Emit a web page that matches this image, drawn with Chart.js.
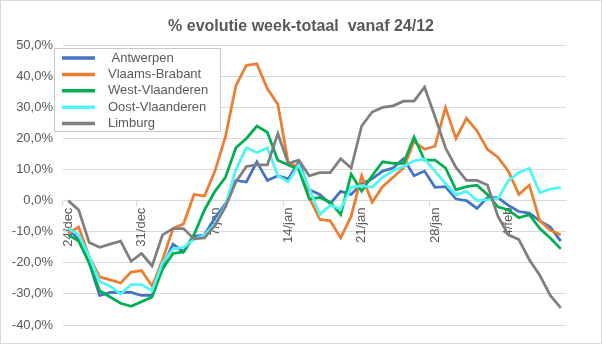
<!DOCTYPE html>
<html>
<head>
<meta charset="utf-8">
<title>% evolutie week-totaal vanaf 24/12</title>
<script src="https://cdn.jsdelivr.net/npm/chart.js@4.4.1/dist/chart.umd.min.js"></script>
<style>
  html, body { margin: 0; padding: 0; background: #fff; }
  canvas { display: block; }
</style>
</head>
<body>
<canvas id="evolutieChart" width="602" height="344"></canvas>
<script>
// one point per day, from 24/dec up to 9/feb
const days = [
    '24/dec', '25/dec', '26/dec', '27/dec', '28/dec', '29/dec', '30/dec', '31/dec',
    '1/jan', '2/jan', '3/jan', '4/jan', '5/jan', '6/jan', '7/jan', '8/jan', '9/jan', '10/jan',
    '11/jan', '12/jan', '13/jan', '14/jan', '15/jan', '16/jan', '17/jan', '18/jan', '19/jan',
    '20/jan', '21/jan', '22/jan', '23/jan', '24/jan', '25/jan', '26/jan', '27/jan', '28/jan',
    '29/jan', '30/jan', '31/jan', '1/feb', '2/feb', '3/feb', '4/feb', '5/feb', '6/feb',
    '7/feb', '8/feb', '9/feb'
];

// % evolution of the week total, per province
const antwerpen = [
    -9, -12.5, -20, -30.5, -29.5, -29.5, -29.5, -30.5, -30.5, -21, -14, -16.5,
    -11.5, -11, -5.5, -1, 6.5, 6, 12.5, 6.5, 8, 7, 12.5, 3.5,
    2, -1, 3, 2, 5.5, 7, 9.5, 10.5, 13.5, 8, 9.5, 4.3,
    4.5, 0.5, 0, -2.5, 1, 1, -1.5, -3.5, -4, -6.5, -8.5, -13
];
const vlaamsBrabant = [
    -10.5, -8.5, -18, -24.5, -25.5, -26.5, -23, -22.5, -27.5, -19, -9, -7.5,
    2, 1.5, 9.5, 20.5, 37, 43.5, 44, 36, 31, 12, 11, 1,
    -6, -6.5, -12, -5, 8, -0.5, 4.5, 7.5, 10.5, 19, 16.5, 17.5,
    30, 20, 26.5, 22.5, 16.5, 14, 9.5, 2, 5, -6.5, -9.5, -11
];
const westVlaanderen = [
    -11, -13, -20, -29, -31, -33, -34, -32.5, -31, -22, -17, -16.5,
    -11, -3, 3, 7.5, 17, 20, 24, 22, 13, 11.5, 10, 0.5,
    1, -0.5, -4.5, 8.5, 3, 8, 12.5, 12, 12, 20.5, 13, 13,
    10.5, 3.5, 4.5, 5, 2, -2, -3, -5.5, -4.5, -9, -12, -15.5
];
const oostVlaanderen = [
    -9, -11, -18, -26, -27.5, -30, -27, -27, -29, -20, -15.5, -15,
    -12.5, -11, -7.5, -1.5, 10, 17, 15.5, 17, 8, 6, 11.5, 4,
    -4.5, -1.5, -2.7, 4.3, 4.8, 4.3, 7.5, 9.6, 11, 12.8, 13.4, 9.5,
    5.5, 1.8, 3, 0, 0.3, 0.7, 6.4, 9, 10.4, 2.6, 3.7, 4.3
];
const limburg = [
    0, -3, -13.5, -15, -14, -13, -19.5, -17, -21, -11, -9, -9,
    -12.3, -12, -8, -2, 6, 11, 11.5, 11.5, 21.5, 12, 13, 8,
    9, 9, 13.5, 10.5, 24, 28.5, 30, 30.5, 32, 32, 36.5, 27,
    17, 10.7, 6.5, 6.5, 5, -5, -11, -12.5, -19, -24, -30.5, -34.5
];

const seriesNames = [' Antwerpen', 'Vlaams-Brabant', 'West-Vlaanderen', 'Oost-Vlaanderen', 'Limburg'];
const seriesColors = ['#4472c4', '#ed7d31', '#00b050', '#4ff5f5', '#7f7f7f'];
const seriesValues = [antwerpen, vlaamsBrabant, westVlaanderen, oostVlaanderen, limburg];

const textColor = '#595959';
const gridColor = '#d9d9d9';
const fontFamily = "'Liberation Sans', Arial, sans-serif";

Chart.defaults.font.family = fontFamily;
Chart.defaults.font.size = 13;
Chart.defaults.color = textColor;

// White background, thin chart border and the boxed legend inside the plot
const excelFrame = {
    id: 'excelFrame',
    beforeDraw(chart) {
        const ctx = chart.ctx;
        ctx.save();
        ctx.fillStyle = '#ffffff';
        ctx.fillRect(0, 0, chart.width, chart.height);
        ctx.strokeStyle = gridColor;
        ctx.lineWidth = 1;
        ctx.strokeRect(0.5, 0.5, chart.width - 1, chart.height - 1);
        ctx.restore();
    },
    afterDraw(chart) {
        const ctx = chart.ctx;
        const box = { x: 54.5, y: 48.5, w: 166, h: 83 };
        ctx.save();
        ctx.fillStyle = '#ffffff';
        ctx.fillRect(box.x, box.y, box.w, box.h);
        ctx.strokeStyle = '#c8c8c8';
        ctx.lineWidth = 1;
        ctx.strokeRect(box.x, box.y, box.w, box.h);

        ctx.font = '13px ' + fontFamily;
        ctx.textBaseline = 'middle';
        ctx.textAlign = 'left';
        chart.data.datasets.forEach((ds, i) => {
            const rowY = box.y + 9.5 + i * 16.4;
            ctx.strokeStyle = ds.borderColor;
            ctx.lineWidth = 3.5;
            ctx.beginPath();
            ctx.moveTo(62, rowY);
            ctx.lineTo(95, rowY);
            ctx.stroke();
            ctx.fillStyle = textColor;
            ctx.fillText(ds.label, 108, rowY);
        });
        ctx.restore();
    }
};

const ctx = document.getElementById('evolutieChart').getContext('2d');
const chart = new Chart(ctx, {
    type: 'line',
    data: {
        labels: days,
        datasets: seriesNames.map((name, i) => ({
            label: name,
            data: seriesValues[i],
            borderColor: seriesColors[i],
            backgroundColor: seriesColors[i],
            borderWidth: 2.75,
            pointRadius: 0,
            tension: 0,
            fill: false,
            // later series drawn on top, like the original
            order: seriesNames.length - i
        }))
    },
    options: {
        responsive: false,
        animation: false,
        layout: {
            padding: { left: 12, right: 12, top: 0, bottom: 19 }
        },
        plugins: {
            legend: { display: false },
            tooltip: { enabled: false },
            title: {
                display: true,
                text: '% evolutie week-totaal  vanaf 24/12',
                color: textColor,
                font: { size: 16, weight: 'bold' },
                padding: { top: 17, bottom: 9 }
            }
        },
        scales: {
            x: {
                type: 'category',
                position: { y: 0 },
                offset: true,
                grid: {
                    offset: true,
                    drawOnChartArea: false,
                    drawTicks: true,
                    tickLength: 5,
                    color: (c) => (c.index % 7 === 0 ? gridColor : 'rgba(0,0,0,0)')
                },
                border: { display: true, color: gridColor },
                ticks: {
                    autoSkip: false,
                    minRotation: 90,
                    maxRotation: 90,
                    padding: 2,
                    color: textColor,
                    callback: function (value, index) {
                        return index % 7 === 0 ? this.getLabelForValue(value) : '';
                    }
                }
            },
            y: {
                min: -40,
                max: 50,
                afterFit: (scale) => { scale.width = 51; },
                grid: {
                    color: gridColor,
                    drawTicks: false
                },
                border: { display: false },
                ticks: {
                    stepSize: 10,
                    padding: 10,
                    color: textColor,
                    callback: (v) => v.toFixed(1).replace('.', ',') + '%'
                }
            },
            // empty right-hand axis, only keeps the plot clear of the right edge
            yRight: {
                position: 'right',
                min: -40,
                max: 50,
                afterFit: (scale) => { scale.width = 24; },
                grid: { drawOnChartArea: false, drawTicks: false },
                border: { display: false },
                ticks: { display: false }
            }
        }
    },
    plugins: [excelFrame]
});
</script>
</body>
</html>
